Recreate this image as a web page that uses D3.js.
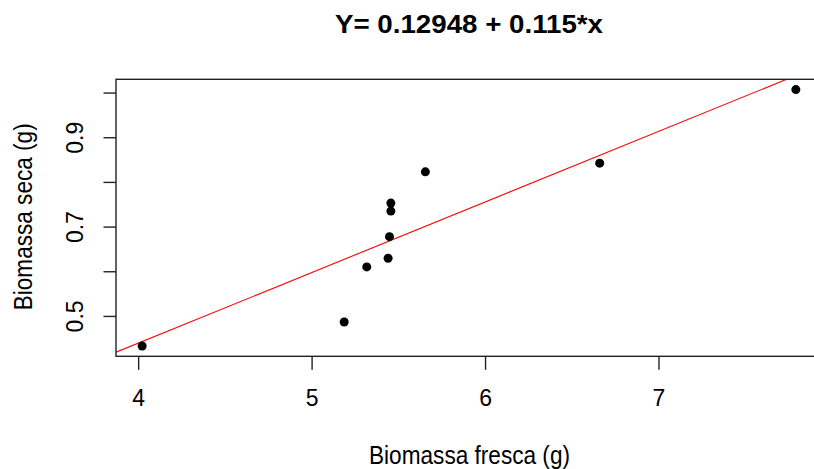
<!DOCTYPE html>
<html>
<head>
<meta charset="utf-8">
<script src="https://cdn.jsdelivr.net/npm/d3@7"></script>
<style>
  html, body { margin: 0; padding: 0; background: #fff; }
  svg { display: block; }
  text { font-family: "Liberation Sans", Arial, sans-serif; fill: #000; }
</style>
</head>
<body>
<svg id="chart" width="814" height="469"></svg>
<script>
// ---- data ----
const biomassaFresca = [4.023, 5.188, 5.318, 5.441, 5.449, 5.457, 5.457, 5.656, 6.661, 7.792];
const biomassaSeca   = [0.4326, 0.4865, 0.6097, 0.629, 0.6775, 0.7346, 0.7526, 0.8225, 0.842, 1.0067];
const lineCoef = [-0.193, 0.158]; // intercept, slope of drawn red line
const xTicks = [4, 5, 6, 7];
const yTicks = [0.5, 0.6, 0.7, 0.8, 0.9, 1.0];
const yTickLabels = ["0.5", "", "0.7", "", "0.9", ""];
const titleText = "Y= 0.12948 + 0.115*x";
const xLabel = "Biomassa fresca (g)";
const yLabel = "Biomassa seca (g)";

// ---- layout ----
const pLeft = 116, pRight = 822, pTop = 79.3, pBottom = 356.3;
const svg = d3.select("#chart");

function ext(arr) {
  const [a, b] = d3.extent(arr);
  const d = (b - a) * 0.04;
  return [a - d, b + d];
}
const x = d3.scaleLinear().domain(ext(biomassaFresca)).range([pLeft, pRight]);
const y = d3.scaleLinear().domain(ext(biomassaSeca)).range([pBottom, pTop]);

// clip
svg.append("defs").append("clipPath").attr("id", "plotclip")
  .append("rect").attr("x", pLeft).attr("y", pTop).attr("width", pRight - pLeft).attr("height", pBottom - pTop);

// regression line
const [x0, x1] = x.domain();
svg.append("line")
  .attr("clip-path", "url(#plotclip)")
  .attr("x1", x(x0)).attr("y1", y(lineCoef[0] + lineCoef[1] * x0))
  .attr("x2", x(x1)).attr("y2", y(lineCoef[0] + lineCoef[1] * x1))
  .attr("stroke", "#ff0000").attr("stroke-width", 1.1);

// points
svg.append("g").selectAll("circle")
  .data(biomassaFresca.map((v, i) => [v, biomassaSeca[i]]))
  .join("circle")
  .attr("cx", d => x(d[0])).attr("cy", d => y(d[1]))
  .attr("r", 4.5).attr("fill", "#000");

// box
svg.append("rect")
  .attr("x", pLeft).attr("y", pTop).attr("width", pRight - pLeft).attr("height", pBottom - pTop)
  .attr("fill", "none").attr("stroke", "#222").attr("stroke-width", 1.4);

// x axis
const xAxis = d3.axisBottom(x).tickValues(xTicks).tickSize(13.5).tickFormat(d3.format("d"));
const gx = svg.append("g").attr("transform", `translate(0,${pBottom})`).call(xAxis);
gx.select(".domain").remove();
gx.selectAll(".tick line").attr("stroke", "#222").attr("stroke-width", 1.4);
gx.selectAll(".tick text")
  .attr("y", 0).attr("dy", 0)
  .attr("transform", "translate(0,50)")
  .style("font-size", "23px").style("font-family", "Liberation Sans, Arial, sans-serif")
  .attr("fill", "#000");

// y axis
const yAxis = d3.axisLeft(y).tickValues(yTicks).tickSize(12.5).tickFormat((d, i) => yTickLabels[i]);
const gy = svg.append("g").attr("transform", `translate(${pLeft},0)`).call(yAxis);
gy.select(".domain").remove();
gy.selectAll(".tick line").attr("stroke", "#222").attr("stroke-width", 1.4);
gy.selectAll(".tick text")
  .attr("x", 0).attr("dy", 0)
  .attr("transform", `translate(${83.3 - pLeft},0) rotate(-90)`)
  .attr("text-anchor", "middle")
  .style("font-size", "23px").style("font-family", "Liberation Sans, Arial, sans-serif")
  .attr("fill", "#000");

// title
svg.append("text")
  .attr("x", 469).attr("y", 33.3)
  .attr("text-anchor", "middle")
  .attr("textLength", 268).attr("lengthAdjust", "spacingAndGlyphs")
  .style("font-size", "26px").style("font-weight", "bold")
  .text(titleText);

// x label
svg.append("text")
  .attr("x", 469.5).attr("y", 464.3)
  .attr("text-anchor", "middle")
  .attr("textLength", 201).attr("lengthAdjust", "spacingAndGlyphs")
  .style("font-size", "25px")
  .text(xLabel);

// y label
svg.append("text")
  .attr("transform", `translate(31.7,${(pTop + pBottom) / 2 - 1}) rotate(-90)`)
  .attr("text-anchor", "middle")
  .attr("textLength", 187).attr("lengthAdjust", "spacingAndGlyphs")
  .style("font-size", "25px")
  .text(yLabel);
</script>
</body>
</html>
